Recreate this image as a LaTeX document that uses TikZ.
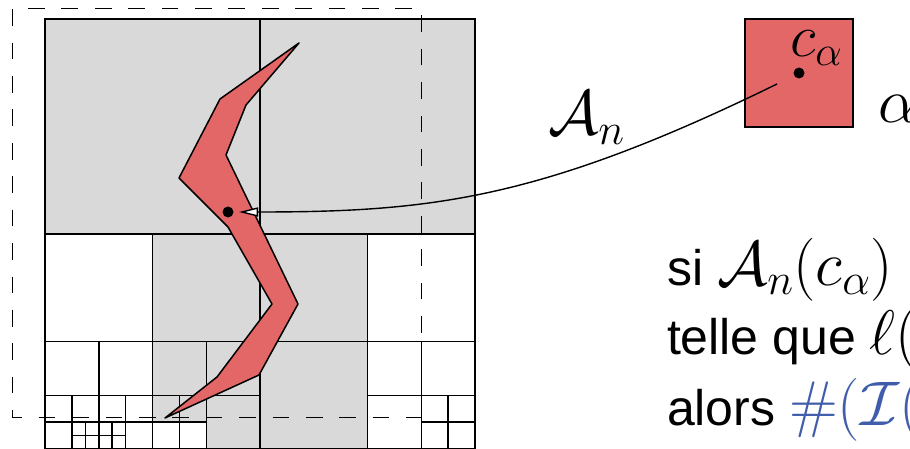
\RequirePackage{fix-cm}
\documentclass[tikz,border=0pt]{standalone}
\usepackage[no-math]{fontspec}
\setmainfont{Liberation Sans}
\usetikzlibrary{arrows.meta}
\definecolor{cellgray}{gray}{0.85}
\definecolor{shapered}{HTML}{E46767}
\definecolor{textblue}{RGB}{63,93,170}
\newcommand\msz{\fontsize{63}{66}\selectfont}
\newcommand\tsz{\fontsize{50}{55}\selectfont}
\begin{document}
\begin{tikzpicture}[x=1pt,y=-1pt,
  gcell/.style={draw=black, fill=cellgray, line width=1.5pt},
  wcell/.style={draw=black, fill=white, line width=1.5pt},
  redshape/.style={draw=black, fill=shapered, line width=1.5pt, line join=round},
  dashbox/.style={draw=black, line width=1.5pt, dash pattern=on 16.7pt off 16.7pt, dash phase=7pt},
  txt/.style={anchor=base west, inner sep=0pt, outer sep=0pt},
  blackdot/.style={circle, fill=black, inner sep=0pt, minimum size=11pt},
  link/.style={line width=1.4pt, -{Triangle[length=19pt,width=9pt,fill=white]}}]
\useasboundingbox (0,0) rectangle (910,449);
\clip (0,0) rectangle (910,449);
% grey cells
\draw[gcell] (45,19) rectangle (260,234);
\draw[gcell] (260,19) rectangle (475,234);
\draw[gcell] (152.5,234) rectangle (260,341.5);
\draw[gcell] (260,234) rectangle (367.5,341.5);
\draw[gcell] (260,341.5) rectangle (367.5,449);
\draw[gcell] (152.5,341.5) rectangle (206.25,395.25);
\draw[gcell] (206.25,341.5) rectangle (260,395.25);
\draw[gcell] (152.5,395.25) rectangle (179.375,422.125);
\draw[gcell] (179.375,395.25) rectangle (206.25,422.125);
\draw[gcell] (206.25,395.25) rectangle (260,449);
% white cells
\draw[wcell] (45,234) rectangle (152.5,341.5);
\draw[wcell] (367.5,234) rectangle (475,341.5);
\draw[wcell] (45,341.5) rectangle (98.75,395.25);
\draw[wcell] (98.75,341.5) rectangle (152.5,395.25);
\draw[wcell] (45,395.25) rectangle (71.875,422.125);
\draw[wcell] (71.875,395.25) rectangle (98.75,422.125);
\draw[wcell] (98.75,395.25) rectangle (125.625,422.125);
\draw[wcell] (125.625,395.25) rectangle (152.5,422.125);
\draw[wcell] (45,422.125) rectangle (71.875,449);
\draw[wcell] (125.625,422.125) rectangle (152.5,449);
\foreach \x in {71.875,85.3125,98.75,112.1875}
  \foreach \y in {422.125,435.5625}
    \draw[wcell] (\x,\y) rectangle ++(13.4375,13.4375);
\draw[wcell] (152.5,422.125) rectangle (179.375,449);
\draw[wcell] (179.375,422.125) rectangle (206.25,449);
\draw[wcell] (367.5,341.5) rectangle (421.25,395.25);
\draw[wcell] (421.25,341.5) rectangle (475,395.25);
\draw[wcell] (367.5,395.25) rectangle (421.25,449);
\draw[wcell] (421.25,395.25) rectangle (448.125,422.125);
\draw[wcell] (448.125,395.25) rectangle (475,422.125);
\draw[wcell] (421.25,422.125) rectangle (448.125,449);
\draw[wcell] (448.125,422.125) rectangle (475,449);
% red curve shape
\draw[redshape] (299,43) -- (220,99) -- (179,178) -- (228,227) -- (272,304) -- (217,377)
  -- (165,418) -- (259,375) -- (298,304) -- (226,155) -- (246,105) -- cycle;
% dashed frame
\draw[dashbox] (12.3,417.3) -- (421.7,417.3) -- (421.7,8.3) -- (12.3,8.3) -- cycle;
% square alpha
\node[draw=black, fill=shapered, line width=1.5pt, minimum size=108pt, inner sep=0pt] (box) at (799,73) {};
\node[blackdot] (cdot) at (799,73) {};
\node[txt] (clab) at (790,57) {\fontsize{60}{62}\selectfont$c_\alpha$};
\node[txt] (alab) at (878,123) {\msz$\alpha$};
\node[txt] (Anlab) at (548,135) {\msz$\mathcal{A}_n$};
% point in the curve
\node[blackdot] (pdot) at (228,212) {};
\coordinate (s) at (777,84);
\coordinate (tip) at (239,212);
\draw[link] (s) .. controls (540,200) and (430,212) .. (tip);
% text
\node[txt] (l1) at (667,285) {\tsz si \msz$\mathcal{A}_n(c_\alpha)$};
\node[txt] (l2) at (667,354) {\tsz telle que \msz$\ell($};
\node[txt] (l3) at (667,425) {\tsz alors \msz\color{textblue}$\#(\mathcal{I}($};
\end{tikzpicture}
\end{document}
